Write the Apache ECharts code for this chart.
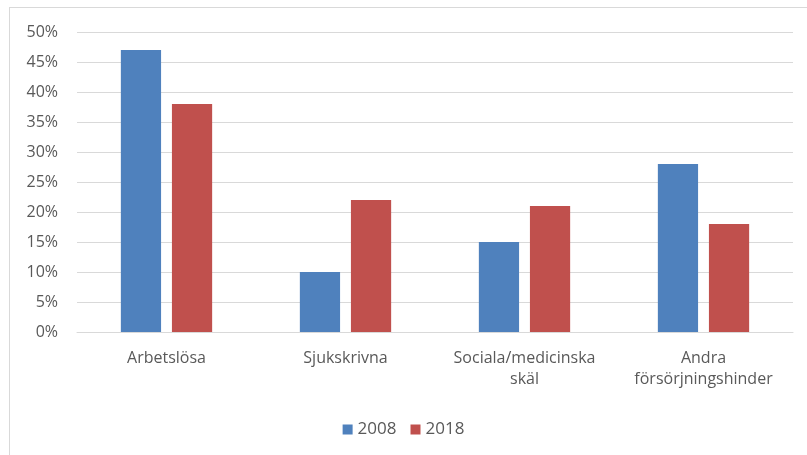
<!DOCTYPE html>
<html>
<head>
<meta charset="utf-8">
<script src="https://cdn.jsdelivr.net/npm/echarts@6/dist/echarts.min.js"></script>
<style>
  html, body { margin: 0; padding: 0; background: #fff; }
  #frame { position: absolute; left: 9px; top: 7px; width: 806px; height: 460px; border: 1px solid #d9d9d9; box-sizing: border-box; }
  #chart { position: absolute; left: 0; top: 0; width: 807px; height: 455px; }
</style>
</head>
<body>
<div id="frame"></div>
<div id="chart"></div>
<script>
  // kategorier och värden (andel i procent)
  var categories = ['Arbetslösa', 'Sjukskrivna', 'Sociala/medicinska\nskäl', 'Andra\nförsörjningshinder'];
  var years = ['2008', '2018'];
  var values2008 = [47, 10, 15, 28];
  var values2018 = [38, 22, 21, 18];

  var myChart = echarts.init(document.getElementById('chart'));
  var font = 'Open Sans, DejaVu Sans, sans-serif';
  var option = {
    animation: false,
    textStyle: { fontFamily: font },
    grid: { left: 77, right: 14, top: 32, bottom: 123 },
    legend: {
      data: years,
      bottom: 12,
      left: 'center',
      itemWidth: 10,
      itemHeight: 10,
      itemGap: 14,
      icon: 'rect',
      textStyle: { color: '#595959', fontSize: 17, fontFamily: font }
    },
    xAxis: {
      type: 'category',
      data: categories,
      axisLine: { lineStyle: { color: '#d9d9d9' } },
      axisTick: { show: false },
      axisLabel: { color: '#595959', fontSize: 16, lineHeight: 21, margin: 16, interval: 0 }
    },
    yAxis: {
      type: 'value',
      min: 0,
      max: 50,
      interval: 5,
      axisLine: { show: false },
      axisTick: { show: false },
      splitLine: { lineStyle: { color: '#d9d9d9' } },
      axisLabel: { color: '#595959', fontSize: 16, margin: 19, formatter: '{value}%' }
    },
    series: [
      { name: years[0], type: 'bar', data: values2008, barGap: '27%', barCategoryGap: '49%', itemStyle: { color: '#4f81bd' } },
      { name: years[1], type: 'bar', data: values2018, itemStyle: { color: '#c0504d' } }
    ]
  };
  myChart.setOption(option);
</script>
</body>
</html>
